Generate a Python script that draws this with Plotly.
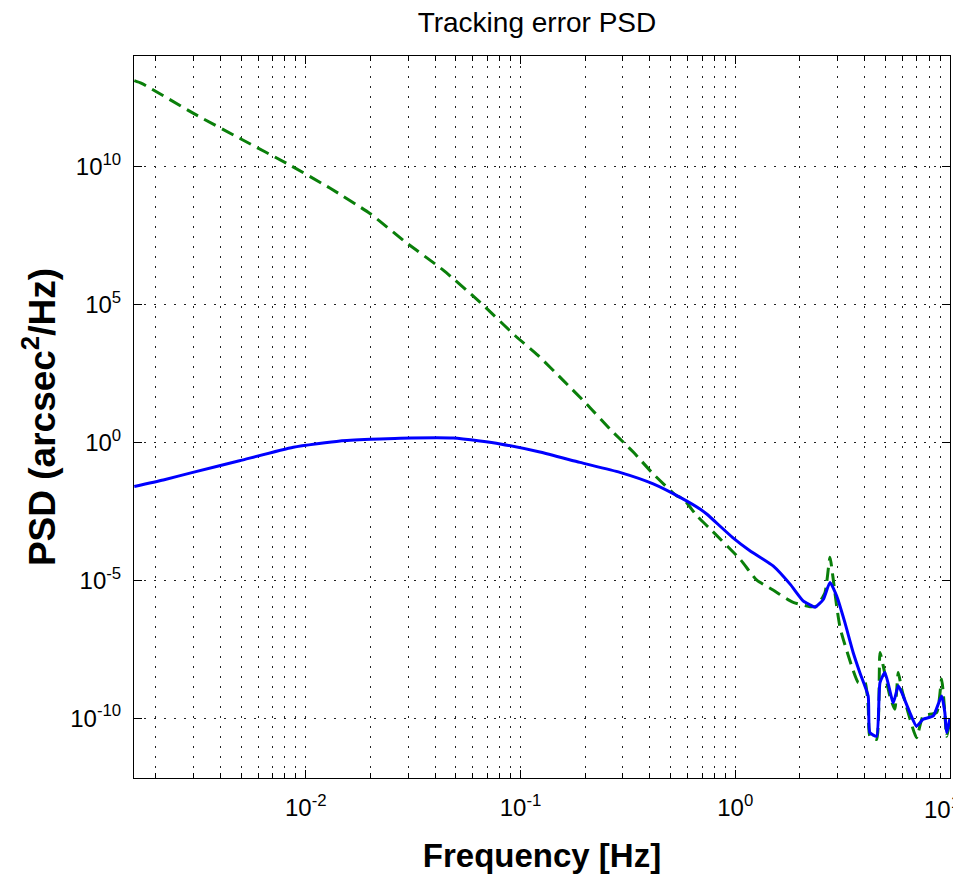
import plotly.graph_objects as go

# curva azul (erro de rastreamento em malha fechada)
freq_blue = [0.00159, 0.00217, 0.00298, 0.00491, 0.00875, 0.01445, 0.020, 0.0275,
             0.0486, 0.0647, 0.0804, 0.123, 0.189, 0.290, 0.415, 0.573, 0.685, 0.736,
             0.973, 1.17, 1.50, 1.80, 2.07, 2.23, 2.350, 2.570, 2.761, 2.965, 3.236,
             3.540, 3.802, 4.159, 4.236, 4.550, 4.721, 4.977, 5.445, 5.741, 5.957,
             6.501, 6.982, 7.499, 8.356, 9.141, 9.462, 9.638, 10.0]
psd_blue = [0.025, 0.043, 0.081, 0.214, 0.66, 1.12, 1.28, 1.40,
            1.42, 1.11, 0.87, 0.44, 0.186, 0.081, 0.031, 8.7e-3, 3.8e-3, 2.5e-3,
            3.5e-4, 1.17e-4, 3.3e-5, 7.2e-6, 1.78e-6, 1.28e-6, 1.05e-6, 2.0e-6, 8.3e-6, 2.7e-6, 3.0e-7,
            2.4e-8, 4.5e-9, 6.3e-10, 3.0e-11, 2.2e-11, 1.95e-9, 4.5e-9, 3.6e-10, 1.5e-9, 8.5e-10,
            1.6e-10, 5.1e-11, 9.1e-11, 1.2e-10, 6.3e-10, 1.6e-10, 3.0e-11, 1.0e-10]

# curva verde tracejada (malha aberta)
freq_green = [0.00159, 0.00172, 0.0030, 0.00494, 0.00845, 0.0130, 0.0199, 0.029,
              0.0438, 0.0647, 0.0942, 0.121, 0.158, 0.203, 0.261, 0.335, 0.415, 0.533,
              0.573, 0.661, 0.764, 1.054, 1.26, 1.50, 1.85, 2.23, 2.393,
              2.618, 2.761, 2.858, 2.965, 3.076, 3.184, 3.483, 3.741, 4.018, 4.159,
              4.236, 4.550, 4.721, 4.887, 5.248, 5.534, 5.741, 5.957, 6.383, 6.982,
              7.499, 8.670, 9.141, 9.462, 9.638, 10.0]
psd_green = [1.29e13, 1.02e13, 8.3e11, 1.02e11, 1.1e10, 1.6e9, 1.95e8, 1.86e7,
             1.7e6, 1.2e5, 7.4e3, 1.38e3, 174, 24.5, 3.0, 0.44, 0.071, 0.0115,
             8.9e-3, 2.2e-3, 7.2e-4, 5.7e-5, 1.0e-5, 4.4e-6, 1.6e-6, 1.1e-6, 1.17e-6,
             3.6e-6, 6.8e-5, 1.1e-5, 1.17e-6, 1.9e-7, 7.2e-8, 7.8e-9, 1.95e-9, 1.95e-9, 2.75e-10,
             2.2e-11, 1.7e-11, 2.4e-8, 7.8e-9, 6.3e-10, 2.1e-10, 4.5e-9, 1.12e-9, 1.6e-10, 1.95e-11,
             1.2e-10, 1.6e-10, 2.6e-9, 1.6e-10, 2.2e-11, 8.0e-11]

x_ticks = [0.01, 0.1, 1, 10]
x_labels = ["10<sup>-2</sup>", "10<sup>-1</sup>", "10<sup>0</sup>", "10<sup>1</sup>"]
y_ticks = [1e-10, 1e-5, 1, 1e5, 1e10]
y_labels = ["10<sup>-10</sup>", "10<sup>-5</sup>", "10<sup>0</sup>", "10<sup>5</sup>", "10<sup>10</sup>"]

FONT = "Liberation Sans, Arial, sans-serif"
GRID = dict(showgrid=True, gridcolor="#222", gridwidth=1, griddash="2px,8px")

fig = go.Figure()
fig.add_trace(go.Scatter(x=freq_green, y=psd_green, mode="lines",
                         line=dict(color="#0a7f0a", width=3, dash="13px,7px",
                                   shape="spline", smoothing=0.5)))
fig.add_trace(go.Scatter(x=freq_blue, y=psd_blue, mode="lines",
                         line=dict(color="#0000ff", width=3, shape="spline", smoothing=0.5)))

minor_x = [m * 10 ** e for e in range(-3, 1) for m in range(2, 10)]

# o último rótulo (10^1) fica colado na borda; vai como anotação para não ser cortado
fig.update_xaxes(
    type="log", range=[-2.8, 1.0], automargin=False,
    tickmode="array", tickvals=x_ticks, ticktext=x_labels[:-1] + [""],
    ticks="inside", ticklen=8, tickcolor="black",
    showline=True, linecolor="black", linewidth=1, mirror="ticks",
    zeroline=False, tickfont=dict(family=FONT, size=24, color="black"),
    ticklabelstandoff=8,
    minor=dict(tickmode="array", tickvals=minor_x, ticks="inside", ticklen=5,
               tickcolor="black", **GRID),
    title=dict(text="<b>Frequency [Hz]</b>", font=dict(family=FONT, size=33, color="black"),
               standoff=24),
    **GRID,
)
fig.add_annotation(x=1.0, y=0, xref="x", yref="paper", text=x_labels[-1], showarrow=False,
                   xanchor="right", yanchor="top", xshift=12, yshift=-13,
                   font=dict(family=FONT, size=24, color="black"))
fig.update_yaxes(
    type="log", range=[-12.17, 14.0], automargin=False,
    tickmode="array", tickvals=y_ticks, ticktext=y_labels,
    ticks="inside", ticklen=8, tickcolor="black",
    showline=True, linecolor="black", linewidth=1, mirror="ticks",
    zeroline=False, tickfont=dict(family=FONT, size=24, color="black"),
    ticklabelstandoff=7,
    title=dict(text="<b>PSD (arcsec<sup>2</sup>/Hz)</b>", font=dict(family=FONT, size=37, color="black"),
               standoff=3),
    **GRID,
)
# a página tem margem de 8px no body, então descontamos isso do tamanho
fig.update_layout(
    width=953, height=869,
    paper_bgcolor="white", plot_bgcolor="white",
    showlegend=False,
    margin=dict(l=126, r=11, t=48, b=99),
    title=dict(text="Tracking error PSD", x=0.555, xanchor="center", y=0.984, yanchor="middle",
               font=dict(family=FONT, size=28, color="black")),
)

fig.write_html("out.html")
